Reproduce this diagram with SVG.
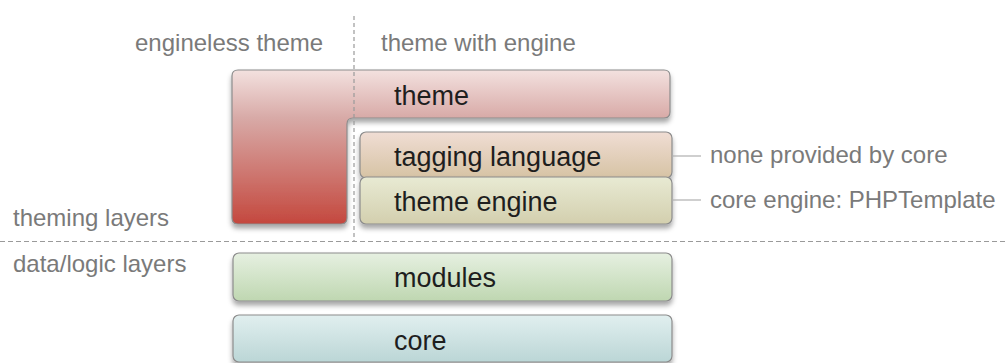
<svg xmlns="http://www.w3.org/2000/svg" width="1008" height="363" viewBox="0 0 1008 363">
<defs>
<linearGradient id="gTheme" gradientUnits="userSpaceOnUse" x1="0" y1="70" x2="0" y2="224">
<stop offset="0" stop-color="#f3e1df"/>
<stop offset="0.31" stop-color="#d8aaa7"/>
<stop offset="1" stop-color="#c4483e"/>
</linearGradient>
<linearGradient id="gTag" x1="0" y1="0" x2="0" y2="1">
<stop offset="0" stop-color="#f0ddd4"/>
<stop offset="1" stop-color="#d6c3a4"/>
</linearGradient>
<linearGradient id="gEng" x1="0" y1="0" x2="0" y2="1">
<stop offset="0" stop-color="#e8eAd3"/>
<stop offset="1" stop-color="#d3cfae"/>
</linearGradient>
<linearGradient id="gMod" x1="0" y1="0" x2="0" y2="1">
<stop offset="0" stop-color="#e6f0e1"/>
<stop offset="1" stop-color="#bfd7b1"/>
</linearGradient>
<linearGradient id="gCore" x1="0" y1="0" x2="0" y2="1">
<stop offset="0" stop-color="#e1efef"/>
<stop offset="1" stop-color="#bbd6d6"/>
</linearGradient>
<filter id="shadow" x="-5%" y="-10%" width="110%" height="130%">
<feDropShadow dx="0" dy="4" stdDeviation="2.5" flood-color="#000" flood-opacity="0.35"/>
</filter>
</defs>
<style>
.box{stroke:#8c8c8c;stroke-width:1.2;filter:url(#shadow)}
.lbl{font-family:"Liberation Sans",Arial,sans-serif;font-size:27px;fill:#1e1e1e}
.note{font-family:"Liberation Sans",Arial,sans-serif;font-size:24px;fill:#7a7a7a}
.dash{stroke:#9a9a9a;stroke-width:1.2;fill:none}
.lead{stroke:#b0b0b0;stroke-width:1.2;fill:none}
</style>

<g id="annotations">
<text class="note" x="135" y="51">engineless theme</text>
<text class="note" x="381" y="51">theme with engine</text>
<text class="note" x="13" y="226">theming layers</text>
<text class="note" x="13" y="272">data/logic layers</text>
<text class="note" x="710" y="163">none provided by core</text>
<text class="note" x="710" y="208">core engine: PHPTemplate</text>
</g>

<g id="theme">
<path class="box" fill="url(#gTheme)" d="M238,70 H664 Q670,70 670,76 V112 Q670,118 664,118 H353 Q347,118 347,124 V218 Q347,224 341,224 H238 Q232,224 232,218 V76 Q232,70 238,70 Z"/>
<text class="lbl" x="394" y="105">theme</text>
</g>

<g id="tagging-language">
<rect class="box" x="360" y="132" width="312" height="46" rx="6" fill="url(#gTag)"/>
<text class="lbl" x="394" y="166">tagging language</text>
</g>

<g id="theme-engine">
<rect class="box" x="360" y="177" width="312" height="47" rx="6" fill="url(#gEng)"/>
<text class="lbl" x="394" y="211">theme engine</text>
</g>

<g id="modules">
<rect class="box" x="233" y="253" width="439" height="48" rx="6" fill="url(#gMod)"/>
<text class="lbl" x="394" y="287">modules</text>
</g>

<g id="core">
<rect class="box" x="233" y="315" width="439" height="47" rx="6" fill="url(#gCore)"/>
<text class="lbl" x="394" y="350">core</text>
</g>

<g id="connectors">
<line class="dash" x1="354" y1="16" x2="354" y2="241" stroke-dasharray="4,3"/>
<line class="dash" x1="0" y1="241.5" x2="1008" y2="241.5" stroke-dasharray="5,3"/>
<line class="lead" x1="672" y1="156" x2="701" y2="156"/>
<line class="lead" x1="672" y1="200" x2="701" y2="200"/>
</g>
</svg>
